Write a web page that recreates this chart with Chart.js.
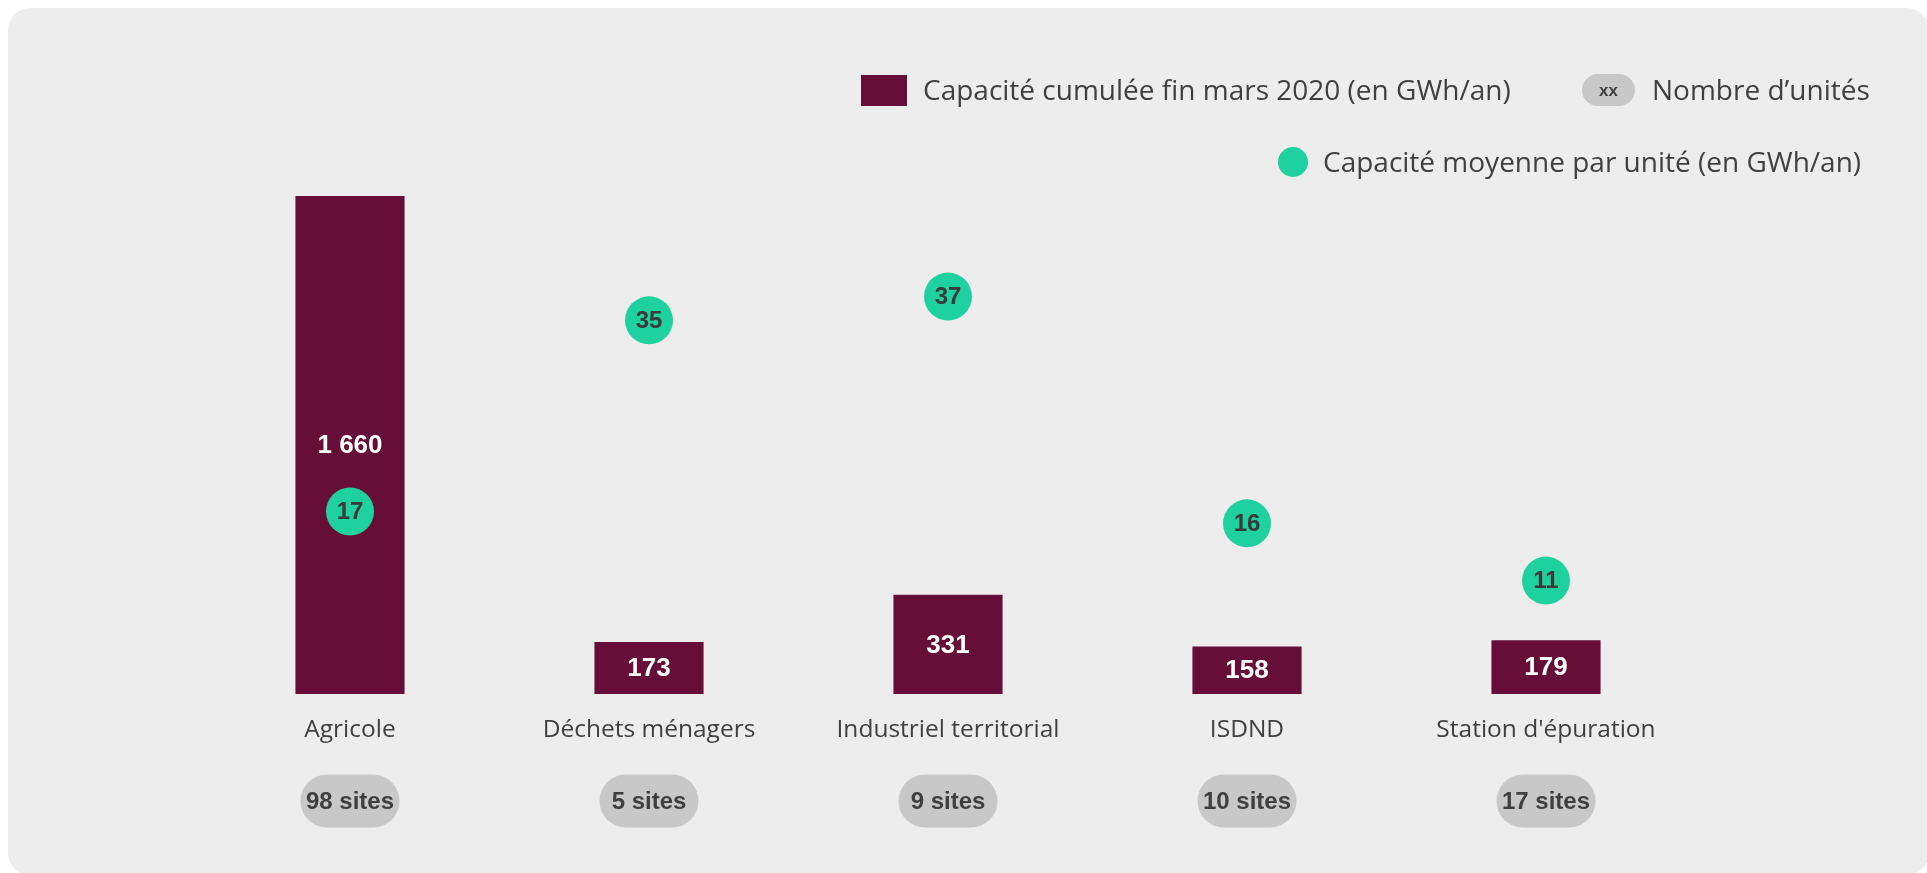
<!DOCTYPE html>
<html lang="fr">
<head>
    <meta charset="UTF-8">
    <title>Capacité biométhane par filière</title>
    <script src="https://cdn.jsdelivr.net/npm/chart.js@4/dist/chart.umd.min.js"></script>
    <style>
        html, body { margin: 0; padding: 0; background: #ffffff; }
        body { width: 1927px; height: 873px; position: relative; overflow: hidden; font-family: "Open Sans", sans-serif; color: #404040; }
        .card { position: absolute; left: 8px; top: 8px; width: 1921px; height: 867px; background: #ededed; border-radius: 22px; }
        canvas { position: absolute; left: 0; top: 0; }
        .leg { position: absolute; font-size: 28px; line-height: 36px; white-space: nowrap; }
        .sw { position: absolute; }
    </style>
</head>
<body>
    <div class="card"></div>
    <canvas id="chart" width="1927" height="873"></canvas>

    <!-- legende dessinee a part -->
    <div class="sw" style="left:861px; top:75px; width:46px; height:31px; background:#660e38;"></div>
    <div class="leg" style="left:923px; top:71px;">Capacité cumulée fin mars 2020 (en GWh/an)</div>
    <div class="sw" style="left:1582px; top:74px; width:53px; height:32px; border-radius:16px; background:#c8c8c8; font:bold 17px 'Liberation Sans', Arial, sans-serif; line-height:33px; text-align:center; color:#404040;">xx</div>
    <div class="leg" style="left:1652px; top:71px;">Nombre d’unités</div>
    <div class="sw" style="left:1278px; top:147px; width:30px; height:30px; border-radius:50%; background:#1fd19e;"></div>
    <div class="leg" style="left:1323px; top:143px;">Capacité moyenne par unité (en GWh/an)</div>

    <script>
        const categories = ['Agricole', 'Déchets ménagers', 'Industriel territorial', 'ISDND', "Station d'épuration"];
        const capacite = [1660, 173, 331, 158, 179];          // GWh/an cumulés
        const moyenne = [16.9, 34.6, 36.8, 15.8, 10.5];       // GWh/an par unité
        const moyenneLabels = ['17', '35', '37', '16', '11'];
        const capaciteLabels = ['1 660', '173', '331', '158', '179'];
        const sites = [98, 5, 9, 10, 17];

        const MAROON = '#660e38';
        const GREEN = '#1fd19e';
        const TEXT = '#404040';

        // Plugin for the value labels, category names and site pills
        const annotations = {
            id: 'annotations',
            afterDatasetsDraw(chart) {
                const ctx = chart.ctx;
                const xScale = chart.scales.x;
                const bars = chart.getDatasetMeta(0).data;
                const dots = chart.getDatasetMeta(1).data;
                ctx.save();
                ctx.textAlign = 'center';
                ctx.textBaseline = 'middle';

                bars.forEach((bar, i) => {
                    ctx.fillStyle = '#ffffff';
                    ctx.font = 'bold 26px "Liberation Sans", Arial, sans-serif';
                    ctx.fillText(capaciteLabels[i], bar.x, (bar.y + bar.base) / 2 + 1);
                });

                dots.forEach((pt, i) => {
                    ctx.fillStyle = '#3a3a3a';
                    ctx.font = 'bold 24px "Liberation Sans", Arial, sans-serif';
                    ctx.fillText(moyenneLabels[i], pt.x, pt.y + 1);
                });

                categories.forEach((cat, i) => {
                    const x = xScale.getPixelForValue(i);
                    ctx.fillStyle = TEXT;
                    ctx.font = '24.5px "Open Sans", sans-serif';
                    ctx.fillText(cat, x, 730);

                    // pill with the number of sites
                    const w = 99, h = 53, y = 801;
                    ctx.fillStyle = '#c8c8c8';
                    ctx.beginPath();
                    ctx.roundRect(x - w / 2, y - h / 2, w, h, h / 2);
                    ctx.fill();
                    ctx.fillStyle = '#3f3f3f';
                    ctx.font = 'bold 24px "Liberation Sans", Arial, sans-serif';
                    ctx.fillText(sites[i] + ' sites', x, y + 1);
                });
                ctx.restore();
            }
        };

        new Chart(document.getElementById('chart'), {
            type: 'bar',
            data: {
                labels: categories,
                datasets: [
                    {
                        label: 'Capacité cumulée fin mars 2020 (en GWh/an)',
                        data: capacite,
                        backgroundColor: MAROON,
                        barPercentage: 0.365,
                        categoryPercentage: 1,
                        yAxisID: 'y',
                        order: 1
                    },
                    {
                        type: 'line',
                        label: 'Capacité moyenne par unité (en GWh/an)',
                        data: moyenne,
                        showLine: false,
                        pointRadius: 24,
                        pointHoverRadius: 24,
                        pointBackgroundColor: GREEN,
                        pointBorderWidth: 0,
                        yAxisID: 'y2',
                        order: 0
                    }
                ]
            },
            options: {
                responsive: false,
                animation: false,
                layout: { padding: { left: 200.5, right: 231.5, top: 139, bottom: 179 } },
                plugins: {
                    legend: { display: false },
                    tooltip: { enabled: false }
                },
                scales: {
                    x: { display: false },
                    y: { display: false, min: 0, max: 1850 },
                    y2: { display: false, min: 0, max: 51.39 }
                }
            },
            plugins: [annotations]
        });
    </script>
</body>
</html>
